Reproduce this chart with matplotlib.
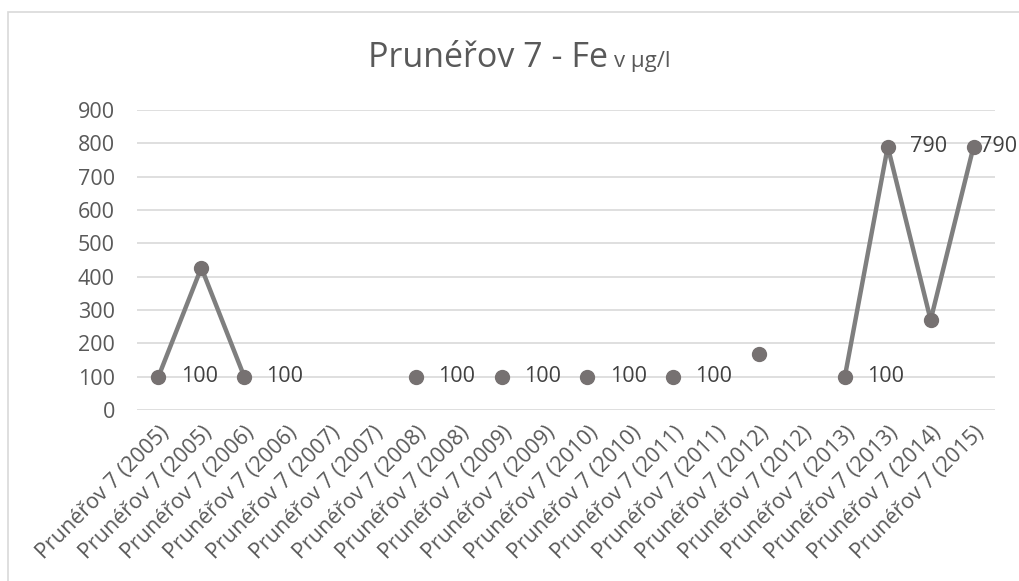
import numpy as np
import matplotlib
matplotlib.use("Agg")
import matplotlib.pyplot as plt
from matplotlib.patches import Rectangle

plt.rcParams['font.family'] = ['Open Sans', 'DejaVu Sans']

# data (Fe in ug/l)
categories = ['Prunéřov 7 (2005)', 'Prunéřov 7 (2005)', 'Prunéřov 7 (2006)', 'Prunéřov 7 (2006)',
              'Prunéřov 7 (2007)', 'Prunéřov 7 (2007)', 'Prunéřov 7 (2008)', 'Prunéřov 7 (2008)',
              'Prunéřov 7 (2009)', 'Prunéřov 7 (2009)', 'Prunéřov 7 (2010)', 'Prunéřov 7 (2010)',
              'Prunéřov 7 (2011)', 'Prunéřov 7 (2011)', 'Prunéřov 7 (2012)', 'Prunéřov 7 (2012)',
              'Prunéřov 7 (2013)', 'Prunéřov 7 (2013)', 'Prunéřov 7 (2014)', 'Prunéřov 7 (2015)']
fe_values = [100, 427, 100, np.nan, np.nan, np.nan, 100, np.nan, 100, np.nan,
             100, np.nan, 100, np.nan, 167, np.nan, 100, 790, 270, 790]
data_labels = ['100', '', '100', '', '', '', '100', '', '100', '',
               '100', '', '100', '', '', '', '100', '790', '', '790']
y_ticks = [0, 100, 200, 300, 400, 500, 600, 700, 800, 900]

W, H = 1019, 581
fig = plt.figure(figsize=(W / 100, H / 100), dpi=100)
ax = fig.add_axes([137 / W, 1 - 410 / H, (995 - 137) / W, 300 / H])

x = np.arange(len(categories))
grey = '#7f7f7f'
ax.plot(x, fe_values, color=grey, linewidth=3.2, marker='o', markersize=10,
        markerfacecolor='#767171', markeredgecolor='#767171', solid_capstyle='round', zorder=3)

# data labels to the right of the points
for i, (v, lab) in enumerate(zip(fe_values, data_labels)):
    if not lab:
        continue
    dx = 16 if i < len(categories) - 1 else 5
    ax.annotate(lab, (i, v), xytext=(dx, 0), textcoords='offset points',
                ha='left', va='center', fontsize=15.5, color='#404040', zorder=4)

ax.set_xlim(-0.5, len(categories) - 0.5)
ax.set_ylim(0, 900)
ax.set_yticks(y_ticks)
ax.set_xticks(x)
ax.set_xticklabels(categories, rotation=45, ha='right', va='top', rotation_mode='anchor')
ax.tick_params(axis='both', length=0, labelsize=15.5, labelcolor='#595959')
ax.tick_params(axis='x', pad=9)
ax.tick_params(axis='y', pad=16)
ax.grid(axis='y', color='#d9d9d9', linewidth=1.2)
ax.set_axisbelow(True)
for s in ax.spines.values():
    s.set_visible(False)

# title: main part and smaller unit part
fig.text(608 / W, 1 - 67 / H, 'Prunéřov 7 - Fe', fontsize=24.5, color='#595959',
         ha='right', va='baseline')
fig.text(614 / W, 1 - 67 / H, 'v µg/l', fontsize=16, color='#595959',
         ha='left', va='baseline')

# chart-area border
fig.add_artist(Rectangle((8 / W, -0.1), 1.2, 1 - 12 / H + 0.1, transform=fig.transFigure,
                         fill=False, edgecolor='#d9d9d9', linewidth=1.2))

fig.savefig('out.png', dpi=100)
